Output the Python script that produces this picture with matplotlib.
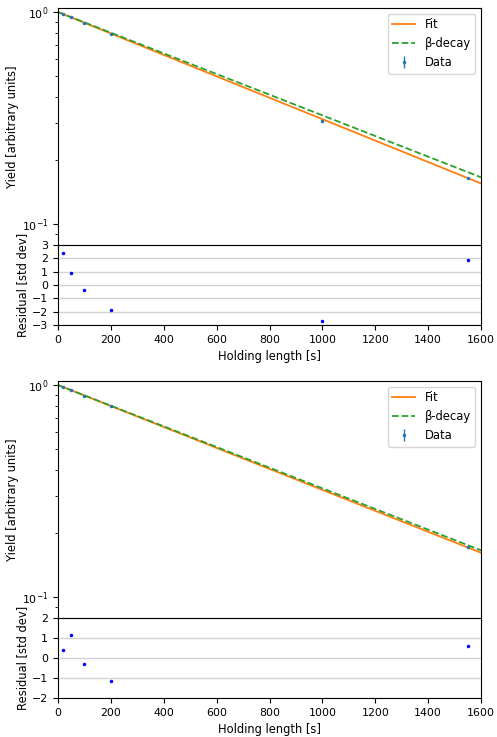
import numpy as np
import matplotlib
matplotlib.use("Agg")
import matplotlib.pyplot as plt

# ---- data ----
hold_top = [20, 50, 100, 200, 1000, 1550]
yield_top = [0.978, 0.945, 0.889, 0.790, 0.307, 0.166]
yerr_top = [0.003, 0.003, 0.003, 0.003, 0.002, 0.001]
resid_top = [2.4, 0.9, -0.35, -1.85, -2.7, 1.9]
tau_fit_top = 861.0

hold_bot = [20, 50, 100, 200, 1550]
yield_bot = [0.978, 0.946, 0.892, 0.796, 0.172]
yerr_bot = [0.003, 0.003, 0.003, 0.003, 0.001]
resid_bot = [0.4, 1.15, -0.3, -1.15, 0.6]
tau_fit_bot = 880.0

tau_beta = 893.0
x_range = [0, 1600]
resid_lim_top = 3
resid_lim_bot = 2

plt.rcParams['font.size'] = 8.3
plt.rcParams['xtick.labelsize'] = 7.9
plt.rcParams['ytick.labelsize'] = 7.9

fig = plt.figure(figsize=(4.97, 7.37), dpi=100)

left, width = 58 / 497, (481 - 58) / 497
H = 737.0


def frac(y0, y1):
    return [left, 1 - y1 / H, width, (y1 - y0) / H]


def panel(main_rect, res_rect, x, y, yerr, res, tau_fit, rlim):
    ax = fig.add_axes(main_rect)
    axr = fig.add_axes(res_rect, sharex=ax)
    t = np.linspace(x_range[0], x_range[1], 400)
    ax.plot(t, np.exp(-t / tau_fit), color='tab:orange', lw=1.3, label='Fit')
    ax.plot(t, np.exp(-t / tau_beta), color='tab:green', lw=1.3, ls='--', label='β-decay')
    ax.errorbar(x, y, yerr=yerr, fmt='.', color='tab:blue', ms=3, lw=1, label='Data')
    ax.set_yscale('log')
    ax.set_ylim(0.08, 1.045)
    ax.set_xlim(*x_range)
    ax.set_ylabel('Yield [arbitrary units]', labelpad=2)
    ax.tick_params(labelbottom=False)
    ax.legend(loc='upper right')

    axr.plot(x, res, 'b.', ms=3)
    axr.set_ylim(-rlim, rlim)
    axr.set_yticks(range(-rlim, rlim + 1))
    axr.grid(axis='y', color='lightgray', lw=1)
    axr.set_axisbelow(True)
    axr.set_xlim(*x_range)
    axr.set_ylabel('Residual [std dev]', labelpad=2)
    axr.set_xlabel('Holding length [s]')
    return ax, axr


panel(frac(8, 245), frac(245, 325), hold_top, yield_top, yerr_top, resid_top,
      tau_fit_top, resid_lim_top)
panel(frac(381, 618), frac(618, 698), hold_bot, yield_bot, yerr_bot, resid_bot,
      tau_fit_bot, resid_lim_bot)

fig.savefig('out.png', dpi=100)
